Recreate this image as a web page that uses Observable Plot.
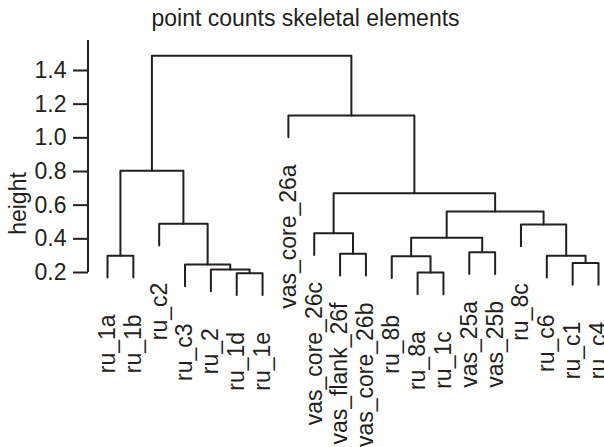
<!DOCTYPE html>
<html><head><meta charset="utf-8">
<script src="https://cdn.jsdelivr.net/npm/d3@7"></script>
<script src="https://cdn.jsdelivr.net/npm/@observablehq/plot@0.6"></script>
<style>
body{margin:0;background:#fff}
#chart svg{font-family:"Liberation Sans",Arial,Helvetica,sans-serif}
</style>
</head><body><div id="chart"></div>
<script>
const title = "point counts skeletal elements";
const yLabel = "height";
const yTicks = [0.2, 0.4, 0.6, 0.8, 1.0, 1.2, 1.4];
// leaves in dendrogram order
const leaves = ["ru_1a","ru_1b","ru_c2","ru_c3","ru_2","ru_1d","ru_1e",
  "vas_core_26a","vas_core_26c","vas_flank_26f","vas_core_26b","ru_8b","ru_8a","ru_1c",
  "vas_25a","vas_25b","ru_8c","ru_c6","ru_c1","ru_c4"];
// merges: [left child, right child, height]; children are leaf names or "mN" (N = 1-based merge row)
const merges = [
  ["ru_1d","ru_1e",0.196],          // m1
  ["ru_8a","ru_1c",0.200],          // m2
  ["ru_2","m1",0.218],              // m3
  ["ru_c3","m3",0.247],             // m4
  ["ru_c1","ru_c4",0.257],          // m5
  ["ru_8b","m2",0.297],             // m6
  ["ru_c6","m5",0.300],             // m7
  ["ru_1a","ru_1b",0.300],          // m8
  ["vas_flank_26f","vas_core_26b",0.311], // m9
  ["vas_25a","vas_25b",0.321],      // m10
  ["m6","m10",0.406],               // m11
  ["vas_core_26c","m9",0.433],      // m12
  ["ru_8c","m7",0.485],             // m13
  ["ru_c2","m4",0.489],             // m14
  ["m11","m13",0.562],              // m15
  ["m12","m15",0.671],              // m16
  ["m8","m14",0.805],               // m17
  ["vas_core_26a","m16",1.132],     // m18
  ["m17","m18",1.488]               // m19
];

const ink = "#231f20";
const fs = 23;
const hs = merges.map(m => m[2]);
const hang = 0.1 * (d3.max(hs) - d3.min(hs));
const nodes = new Map(leaves.map((l, i) => [l, {x: i, leaf: true}]));
const pts = [];
const labelRows = [];
merges.forEach(([a, b, h], k) => {
  const id = "m" + (k + 1);
  const A = nodes.get(a), B = nodes.get(b);
  const ya = A.leaf ? h - hang : A.h;
  const yb = B.leaf ? h - hang : B.h;
  pts.push({z: id, x: A.x, y: ya}, {z: id, x: A.x, y: h}, {z: id, x: B.x, y: h}, {z: id, x: B.x, y: yb});
  if (A.leaf) labelRows.push({name: a, x: A.x, y: ya});
  if (B.leaf) labelRows.push({name: b, x: B.x, y: yb});
  nodes.set(id, {x: (A.x + B.x) / 2, h, leaf: false});
});

const axisLine = (index, scales, values, dims) => {
  const l = document.createElementNS("http://www.w3.org/2000/svg", "line");
  l.setAttribute("x1", dims.marginLeft); l.setAttribute("x2", dims.marginLeft);
  l.setAttribute("y1", scales.y(yTicks[0])); l.setAttribute("y2", dims.marginTop);
  l.setAttribute("stroke", ink); l.setAttribute("stroke-width", 2);
  return l;
};

const textOpts = {x: "x", y: "y", text: "name", rotate: -90, textAnchor: "end", lineAnchor: "middle", fontSize: fs, fill: ink};

const chart = Plot.plot({
  width: 604,
  height: 447,
  marginLeft: 88,
  marginRight: 6,
  marginTop: 40,
  marginBottom: 175,
  style: {fontSize: fs + "px", fontFamily: "'Liberation Sans', Arial, sans-serif", background: "#fff"},
  x: {domain: [0, leaves.length - 1], insetLeft: 19, axis: null},
  y: {domain: [yTicks[0], yTicks[yTicks.length - 1]], insetTop: 30, axis: null},
  marks: [
    Plot.axisY(yTicks, {tickSize: 15, tickPadding: 7, tickFormat: d => d.toFixed(1), label: null, color: ink, strokeWidth: 2, fontSize: fs}),
    axisLine,
    Plot.line(pts, {x: "x", y: "y", z: "z", stroke: ink, strokeWidth: 2, curve: "linear"}),
    Plot.text(labelRows.filter(d => d.name.startsWith("ru")), {...textOpts, dy: 37}),
    Plot.text(labelRows.filter(d => !d.name.startsWith("ru")), {...textOpts, dy: 27}),
    Plot.text([title], {frameAnchor: "top", textAnchor: "middle", dx: -38, dy: -22, fontSize: fs, fill: ink, lineAnchor: "middle"}),
    Plot.text([yLabel], {frameAnchor: "left", rotate: -90, textAnchor: "middle", dx: -70, dy: 47, fontSize: fs, fill: ink, lineAnchor: "middle"})
  ]
});
document.getElementById("chart").appendChild(chart);
</script>
</body></html>
